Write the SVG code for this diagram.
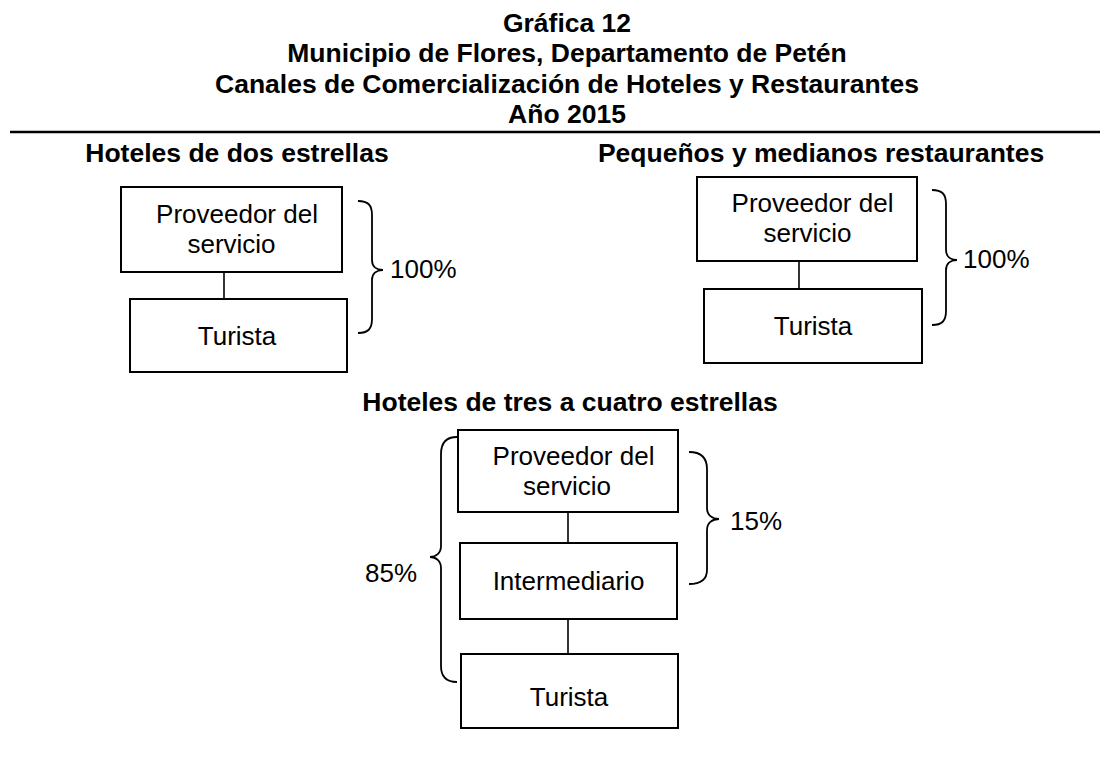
<svg xmlns="http://www.w3.org/2000/svg" width="1110" height="759" viewBox="0 0 1110 759">
  <style>
    .title { font-family: "Liberation Sans", Arial, sans-serif; font-size: 26.5px; font-weight: bold; fill: #000; text-anchor: middle; }
    .head { font-family: "Liberation Sans", Arial, sans-serif; font-size: 26.5px; font-weight: bold; fill: #000; text-anchor: middle; }
    .lbl { font-family: "Liberation Sans", Arial, sans-serif; font-size: 26px; fill: #000; text-anchor: middle; }
    .pct { font-family: "Liberation Sans", Arial, sans-serif; font-size: 26px; fill: #000; }
    .box { fill: #fff; stroke: #000; stroke-width: 2; }
    .conn { stroke: #000; stroke-width: 1.6; fill: none; }
    .brace { stroke: #000; stroke-width: 1.8; fill: none; }
  </style>
  <rect width="1110" height="759" fill="#fff"/>

  <g id="title">
    <text class="title" x="567" y="32">Gráfica 12</text>
    <text class="title" x="567" y="62">Municipio de Flores, Departamento de Petén</text>
    <text class="title" x="567" y="93">Canales de Comercialización de Hoteles y Restaurantes</text>
    <text class="title" x="567" y="123">Año 2015</text>
    <line x1="10" y1="132" x2="1100" y2="132" stroke="#000" stroke-width="2.5"/>
  </g>

  <g id="headings">
    <text class="head" x="237" y="162">Hoteles de dos estrellas</text>
    <text class="head" x="821" y="162">Pequeños y medianos restaurantes</text>
    <text class="head" x="570" y="411">Hoteles de tres a cuatro estrellas</text>
  </g>

  <g id="connectors">
    <line class="conn" x1="224" y1="272" x2="224" y2="299"/>
    <line class="conn" x1="799" y1="261" x2="799" y2="289"/>
    <line class="conn" x1="568" y1="512" x2="568" y2="543"/>
    <line class="conn" x1="568" y1="619" x2="568" y2="654"/>
  </g>

  <g id="h2-proveedor">
    <rect class="box" x="121" y="187" width="221" height="85"/>
    <text class="lbl" x="237" y="223">Proveedor del</text>
    <text class="lbl" x="231.5" y="253">servicio</text>
  </g>
  <g id="h2-turista">
    <rect class="box" x="130" y="299" width="217" height="73"/>
    <text class="lbl" x="237" y="345">Turista</text>
  </g>
  <g id="h2-brace">
    <path class="brace" d="M358 201 C368 201 372 205 372 215 L372 260 C372 267 377 270 383 270 C377 270 372 273 372 280 L372 319 C372 329 368 333 358 333"/>
    <text class="pct" x="390" y="278">100%</text>
  </g>

  <g id="r-proveedor">
    <rect class="box" x="697" y="177" width="220" height="84"/>
    <text class="lbl" x="812.5" y="212">Proveedor del</text>
    <text class="lbl" x="807.5" y="242">servicio</text>
  </g>
  <g id="r-turista">
    <rect class="box" x="704" y="289" width="218" height="74"/>
    <text class="lbl" x="813" y="335">Turista</text>
  </g>
  <g id="r-brace">
    <path class="brace" d="M932 190 C942 190 946 194 946 204 L946 250 C946 257 951 260 957 260 C951 260 946 263 946 270 L946 311 C946 321 942 325 932 325"/>
    <text class="pct" x="963" y="268">100%</text>
  </g>

  <g id="b-proveedor">
    <rect class="box" x="458" y="430" width="220" height="82"/>
    <text class="lbl" x="573.5" y="465">Proveedor del</text>
    <text class="lbl" x="567" y="495">servicio</text>
  </g>
  <g id="b-intermediario">
    <rect class="box" x="460" y="543" width="217" height="76"/>
    <text class="lbl" x="568.5" y="590">Intermediario</text>
  </g>
  <g id="b-turista">
    <rect class="box" x="461" y="654" width="217" height="74"/>
    <text class="lbl" x="569" y="706">Turista</text>
  </g>
  <g id="b-brace15">
    <path class="brace" d="M689 452 C701 452 707 457 707 469 L707 508 C707 515 712 519 719 519 C712 519 707 523 707 530 L707 570 C707 580 701 584 689 584"/>
    <text class="pct" x="730" y="530">15%</text>
  </g>
  <g id="b-brace85">
    <path class="brace" d="M457 437 C447 437 441 442 441 454 L441 546 C441 553 436 557 430 557 C436 557 441 561 441 568 L441 666 C441 677 447 682 457 682"/>
    <text class="pct" x="365" y="582">85%</text>
  </g>
</svg>
